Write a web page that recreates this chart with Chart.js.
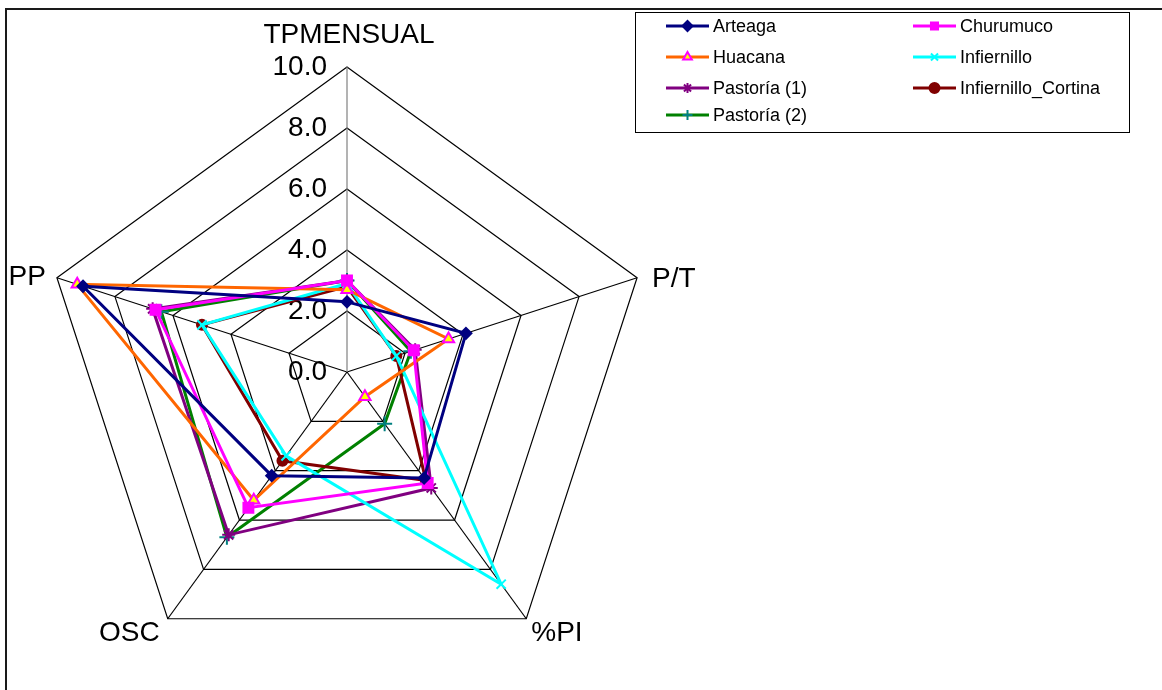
<!DOCTYPE html>
<html>
<head>
<meta charset="utf-8">
<title>Radar</title>
<script src="https://cdn.jsdelivr.net/npm/chart.js@4.4.1/dist/chart.umd.min.js"></script>
<style>
  html, body { margin: 0; padding: 0; background: #fff; overflow: hidden; }
  canvas { display: block; }
</style>
</head>
<body>
<canvas id="radar" width="1162" height="690"></canvas>
<script>
// axes of the radar, clockwise from the top
const categories = ['TPMENSUAL', 'P/T', '%PI', 'OSC', 'PP']
const tickValues = [0, 2, 4, 6, 8, 10]

// values, same order as categories
const arteaga = [2.3, 4.1, 4.3, 4.2, 9.1]
const churumuco = [3.0, 2.3, 4.5, 5.5, 6.6]
const huacana = [2.7, 3.5, 1.0, 5.2, 9.3]
const infiernillo = [2.9, 1.7, 8.6, 3.4, 5.0]
const pastoria1 = [3.0, 2.35, 4.7, 6.6, 6.7]
const infiernilloCortina = [2.8, 1.7, 4.4, 3.6, 5.0]
const pastoria2 = [3.0, 2.2, 2.1, 6.7, 6.4]

const FONT = "'Liberation Sans', Arial, sans-serif"

function series (label, data, color, style, radius, fill, pointColor) {
  return {
    label: label,
    data: data,
    borderColor: color,
    backgroundColor: color,
    borderWidth: 3,
    fill: false,
    tension: 0,
    pointStyle: style,
    pointRadius: radius,
    pointBorderWidth: 2,
    pointBorderColor: pointColor || color,
    pointBackgroundColor: fill || color
  }
}

const datasets = [
  series('Arteaga', arteaga, '#000080', 'rectRot', 5.5),
  series('Churumuco', churumuco, '#ff00ff', 'rect', 7),
  series('Huacana', huacana, '#ff6600', 'triangle', 6.5, '#ffff00', '#ff00ff'),
  series('Infiernillo', infiernillo, '#00ffff', 'crossRot', 6.5),
  series('Pastoría (1)', pastoria1, '#800080', 'star', 6.5),
  series('Infiernillo_Cortina', infiernilloCortina, '#800000', 'circle', 5),
  series('Pastoría (2)', pastoria2, '#008000', 'cross', 7.5, null, '#008080')
]

// labels around the radar and the value ticks
const labelsPlugin = {
  id: 'labels',
  beforeDatasetsDraw (chart) {
    const ctx = chart.ctx
    const r = chart.scales.r
    ctx.save()
    ctx.fillStyle = '#000'
    ctx.font = '28px ' + FONT
    ctx.textBaseline = 'middle'
    ctx.textAlign = 'right'
    tickValues.forEach(v => {
      const d = r.getDistanceFromCenterForValue(v)
      ctx.fillText(v.toFixed(1), r.xCenter - 20, r.yCenter - d)
    })
    // offsets from the outer vertex for each axis name
    const place = [
      { dx: 2, dy: -32, align: 'center' },
      { dx: 15, dy: 2, align: 'left' },
      { dx: 5, dy: 15, align: 'left' },
      { dx: -8, dy: 15, align: 'right' },
      { dx: -11, dy: 0, align: 'right' }
    ]
    categories.forEach((name, i) => {
      const p = r.getPointPosition(i, r.drawingArea)
      ctx.textAlign = place[i].align
      ctx.fillText(name, p.x + place[i].dx, p.y + place[i].dy)
    })
    ctx.restore()
  },
  afterDraw (chart) {
    const ctx = chart.ctx
    ctx.save()
    // outer frame
    ctx.strokeStyle = '#1a1a1a'
    ctx.lineWidth = 2
    ctx.strokeRect(6, 9, 1300, 800)
    // legend box
    ctx.strokeStyle = '#000'
    ctx.lineWidth = 1
    ctx.strokeRect(635.5, 12.5, 494, 120)
    const cols = [{ x1: 666, x2: 709, tx: 713 }, { x1: 913, x2: 956, tx: 960 }]
    const rows = [26, 57, 88, 115]
    ctx.font = '18px ' + FONT
    ctx.textBaseline = 'middle'
    ctx.textAlign = 'left'
    chart.data.datasets.forEach((ds, i) => {
      const c = cols[i % 2]
      const y = rows[Math.floor(i / 2)]
      ctx.strokeStyle = ds.borderColor
      ctx.lineWidth = 3
      ctx.beginPath()
      ctx.moveTo(c.x1, y)
      ctx.lineTo(c.x2, y)
      ctx.stroke()
      ctx.strokeStyle = ds.pointBorderColor
      ctx.fillStyle = ds.pointBackgroundColor
      ctx.lineWidth = 2
      Chart.helpers.drawPoint(ctx, {
        pointStyle: ds.pointStyle,
        radius: Math.min(ds.pointRadius, 5),
        rotation: 0,
        borderWidth: 2
      }, (c.x1 + c.x2) / 2, y)
      ctx.fillStyle = '#000'
      ctx.fillText(ds.label, c.tx, y + 1)
    })
    ctx.restore()
  }
}

new Chart(document.getElementById('radar'), {
  type: 'radar',
  data: { labels: categories, datasets: datasets },
  options: {
    responsive: false,
    animation: false,
    layout: { padding: { left: 42, top: 67, right: 510, bottom: 13 } },
    plugins: { legend: { display: false }, tooltip: { enabled: false } },
    elements: { line: { borderJoinStyle: 'miter' } },
    scales: {
      r: {
        min: 0,
        max: 10,
        ticks: { display: false, stepSize: 2 },
        pointLabels: { display: false },
        grid: { color: '#000', lineWidth: 1.2, circular: false },
        angleLines: { color: c => c.index === 0 ? '#808080' : '#000', lineWidth: 1.2 }
      }
    }
  },
  plugins: [labelsPlugin]
})
</script>
</body>
</html>
